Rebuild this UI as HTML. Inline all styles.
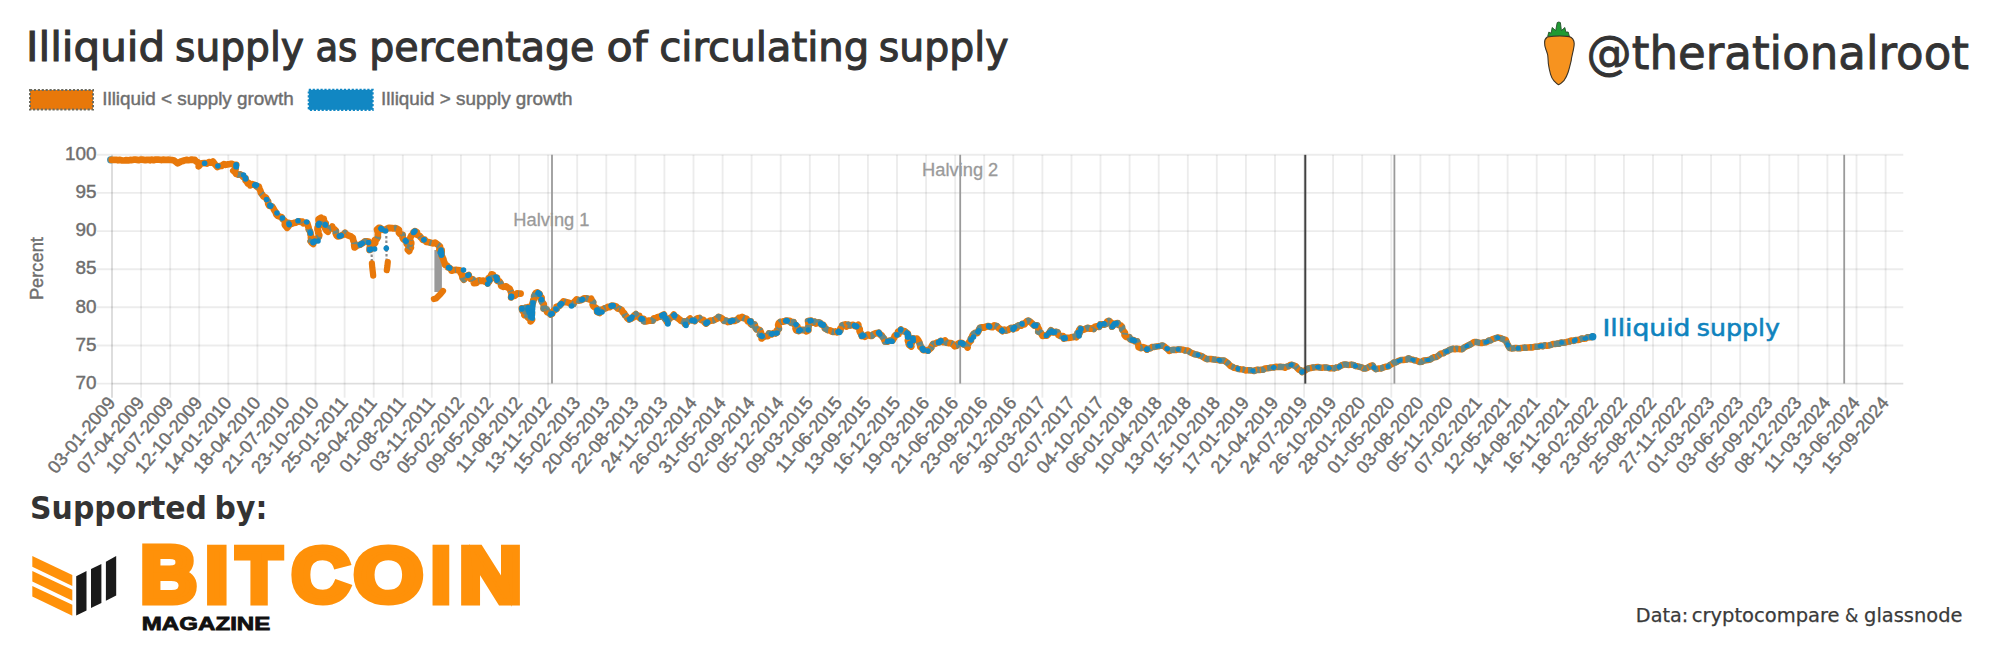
<!DOCTYPE html>
<html lang="en"><head><meta charset="utf-8"><title>Illiquid supply as percentage of circulating supply</title>
<style>html,body{margin:0;padding:0;background:#fff}body{width:1999px;height:658px;overflow:hidden}svg{display:block}text{font-family:"Liberation Sans",sans-serif}.u{font-family:"DejaVu Sans","Liberation Sans",sans-serif}.uc{font-family:"DejaVu Sans Condensed","DejaVu Sans","Liberation Sans",sans-serif}.tk{font-size:18.9px;fill:#6e6e6e;stroke:#6e6e6e;stroke-width:0.42px}</style></head><body>
<svg width="1999" height="658" viewBox="0 0 1999 658">
<rect width="1999" height="658" fill="#fff"/>
<g stroke="#000" stroke-opacity="0.075" stroke-width="1.9" fill="none">
<line x1="97" y1="154.8" x2="1903.3" y2="154.8"/>
<line x1="97" y1="192.9" x2="1903.3" y2="192.9"/>
<line x1="97" y1="231.1" x2="1903.3" y2="231.1"/>
<line x1="97" y1="269.2" x2="1903.3" y2="269.2"/>
<line x1="97" y1="307.3" x2="1903.3" y2="307.3"/>
<line x1="97" y1="345.5" x2="1903.3" y2="345.5"/>
<line x1="97" y1="383.6" x2="1903.3" y2="383.6"/>
<line x1="112.0" y1="154.8" x2="112.0" y2="397.7"/>
<line x1="141.1" y1="154.8" x2="141.1" y2="397.7"/>
<line x1="170.2" y1="154.8" x2="170.2" y2="397.7"/>
<line x1="199.2" y1="154.8" x2="199.2" y2="397.7"/>
<line x1="228.3" y1="154.8" x2="228.3" y2="397.7"/>
<line x1="257.4" y1="154.8" x2="257.4" y2="397.7"/>
<line x1="286.4" y1="154.8" x2="286.4" y2="397.7"/>
<line x1="315.5" y1="154.8" x2="315.5" y2="397.7"/>
<line x1="344.6" y1="154.8" x2="344.6" y2="397.7"/>
<line x1="373.7" y1="154.8" x2="373.7" y2="397.7"/>
<line x1="402.8" y1="154.8" x2="402.8" y2="397.7"/>
<line x1="431.8" y1="154.8" x2="431.8" y2="397.7"/>
<line x1="460.9" y1="154.8" x2="460.9" y2="397.7"/>
<line x1="490.0" y1="154.8" x2="490.0" y2="397.7"/>
<line x1="519.0" y1="154.8" x2="519.0" y2="397.7"/>
<line x1="548.1" y1="154.8" x2="548.1" y2="397.7"/>
<line x1="577.2" y1="154.8" x2="577.2" y2="397.7"/>
<line x1="606.3" y1="154.8" x2="606.3" y2="397.7"/>
<line x1="635.4" y1="154.8" x2="635.4" y2="397.7"/>
<line x1="664.4" y1="154.8" x2="664.4" y2="397.7"/>
<line x1="693.5" y1="154.8" x2="693.5" y2="397.7"/>
<line x1="722.6" y1="154.8" x2="722.6" y2="397.7"/>
<line x1="751.6" y1="154.8" x2="751.6" y2="397.7"/>
<line x1="780.7" y1="154.8" x2="780.7" y2="397.7"/>
<line x1="809.8" y1="154.8" x2="809.8" y2="397.7"/>
<line x1="838.9" y1="154.8" x2="838.9" y2="397.7"/>
<line x1="867.9" y1="154.8" x2="867.9" y2="397.7"/>
<line x1="897.0" y1="154.8" x2="897.0" y2="397.7"/>
<line x1="926.1" y1="154.8" x2="926.1" y2="397.7"/>
<line x1="955.2" y1="154.8" x2="955.2" y2="397.7"/>
<line x1="984.2" y1="154.8" x2="984.2" y2="397.7"/>
<line x1="1013.3" y1="154.8" x2="1013.3" y2="397.7"/>
<line x1="1042.4" y1="154.8" x2="1042.4" y2="397.7"/>
<line x1="1071.5" y1="154.8" x2="1071.5" y2="397.7"/>
<line x1="1100.5" y1="154.8" x2="1100.5" y2="397.7"/>
<line x1="1129.6" y1="154.8" x2="1129.6" y2="397.7"/>
<line x1="1158.7" y1="154.8" x2="1158.7" y2="397.7"/>
<line x1="1187.8" y1="154.8" x2="1187.8" y2="397.7"/>
<line x1="1216.8" y1="154.8" x2="1216.8" y2="397.7"/>
<line x1="1245.9" y1="154.8" x2="1245.9" y2="397.7"/>
<line x1="1275.0" y1="154.8" x2="1275.0" y2="397.7"/>
<line x1="1304.1" y1="154.8" x2="1304.1" y2="397.7"/>
<line x1="1333.1" y1="154.8" x2="1333.1" y2="397.7"/>
<line x1="1362.2" y1="154.8" x2="1362.2" y2="397.7"/>
<line x1="1391.3" y1="154.8" x2="1391.3" y2="397.7"/>
<line x1="1420.4" y1="154.8" x2="1420.4" y2="397.7"/>
<line x1="1449.5" y1="154.8" x2="1449.5" y2="397.7"/>
<line x1="1478.5" y1="154.8" x2="1478.5" y2="397.7"/>
<line x1="1507.6" y1="154.8" x2="1507.6" y2="397.7"/>
<line x1="1536.7" y1="154.8" x2="1536.7" y2="397.7"/>
<line x1="1565.8" y1="154.8" x2="1565.8" y2="397.7"/>
<line x1="1594.8" y1="154.8" x2="1594.8" y2="397.7"/>
<line x1="1623.9" y1="154.8" x2="1623.9" y2="397.7"/>
<line x1="1653.0" y1="154.8" x2="1653.0" y2="397.7"/>
<line x1="1682.0" y1="154.8" x2="1682.0" y2="397.7"/>
<line x1="1711.1" y1="154.8" x2="1711.1" y2="397.7"/>
<line x1="1740.2" y1="154.8" x2="1740.2" y2="397.7"/>
<line x1="1769.3" y1="154.8" x2="1769.3" y2="397.7"/>
<line x1="1798.3" y1="154.8" x2="1798.3" y2="397.7"/>
<line x1="1827.4" y1="154.8" x2="1827.4" y2="397.7"/>
<line x1="1856.5" y1="154.8" x2="1856.5" y2="397.7"/>
<line x1="1885.6" y1="154.8" x2="1885.6" y2="397.7"/>
</g>
<line x1="112.0" y1="383.6" x2="1903.3" y2="383.6" stroke="#000" stroke-opacity="0.06" stroke-width="1.9"/>
<line x1="112.0" y1="154.8" x2="112.0" y2="397.7" stroke="#000" stroke-opacity="0.07" stroke-width="1.9"/>
<g class="tk" text-anchor="end">
<text x="96.6" y="160.0">100</text>
<text x="96.6" y="198.1">95</text>
<text x="96.6" y="236.3">90</text>
<text x="96.6" y="274.4">85</text>
<text x="96.6" y="312.5">80</text>
<text x="96.6" y="350.7">75</text>
<text x="96.6" y="388.8">70</text>
</g>
<text class="tk" style="font-size:18.3px" transform="translate(43.2,268.6) rotate(-90)" text-anchor="middle">Percent</text>
<g class="tk" text-anchor="end" style="font-size:18.3px">
<text transform="translate(116.2,403.2) rotate(-50)">03-01-2009</text>
<text transform="translate(145.3,403.2) rotate(-50)">07-04-2009</text>
<text transform="translate(174.3,403.2) rotate(-50)">10-07-2009</text>
<text transform="translate(203.4,403.2) rotate(-50)">12-10-2009</text>
<text transform="translate(232.5,403.2) rotate(-50)">14-01-2010</text>
<text transform="translate(261.6,403.2) rotate(-50)">18-04-2010</text>
<text transform="translate(290.6,403.2) rotate(-50)">21-07-2010</text>
<text transform="translate(319.7,403.2) rotate(-50)">23-10-2010</text>
<text transform="translate(348.8,403.2) rotate(-50)">25-01-2011</text>
<text transform="translate(377.9,403.2) rotate(-50)">29-04-2011</text>
<text transform="translate(406.9,403.2) rotate(-50)">01-08-2011</text>
<text transform="translate(436.0,403.2) rotate(-50)">03-11-2011</text>
<text transform="translate(465.1,403.2) rotate(-50)">05-02-2012</text>
<text transform="translate(494.2,403.2) rotate(-50)">09-05-2012</text>
<text transform="translate(523.2,403.2) rotate(-50)">11-08-2012</text>
<text transform="translate(552.3,403.2) rotate(-50)">13-11-2012</text>
<text transform="translate(581.4,403.2) rotate(-50)">15-02-2013</text>
<text transform="translate(610.5,403.2) rotate(-50)">20-05-2013</text>
<text transform="translate(639.6,403.2) rotate(-50)">22-08-2013</text>
<text transform="translate(668.6,403.2) rotate(-50)">24-11-2013</text>
<text transform="translate(697.7,403.2) rotate(-50)">26-02-2014</text>
<text transform="translate(726.8,403.2) rotate(-50)">31-05-2014</text>
<text transform="translate(755.9,403.2) rotate(-50)">02-09-2014</text>
<text transform="translate(784.9,403.2) rotate(-50)">05-12-2014</text>
<text transform="translate(814.0,403.2) rotate(-50)">09-03-2015</text>
<text transform="translate(843.1,403.2) rotate(-50)">11-06-2015</text>
<text transform="translate(872.1,403.2) rotate(-50)">13-09-2015</text>
<text transform="translate(901.2,403.2) rotate(-50)">16-12-2015</text>
<text transform="translate(930.3,403.2) rotate(-50)">19-03-2016</text>
<text transform="translate(959.4,403.2) rotate(-50)">21-06-2016</text>
<text transform="translate(988.5,403.2) rotate(-50)">23-09-2016</text>
<text transform="translate(1017.5,403.2) rotate(-50)">26-12-2016</text>
<text transform="translate(1046.6,403.2) rotate(-50)">30-03-2017</text>
<text transform="translate(1075.7,403.2) rotate(-50)">02-07-2017</text>
<text transform="translate(1104.8,403.2) rotate(-50)">04-10-2017</text>
<text transform="translate(1133.8,403.2) rotate(-50)">06-01-2018</text>
<text transform="translate(1162.9,403.2) rotate(-50)">10-04-2018</text>
<text transform="translate(1192.0,403.2) rotate(-50)">13-07-2018</text>
<text transform="translate(1221.0,403.2) rotate(-50)">15-10-2018</text>
<text transform="translate(1250.1,403.2) rotate(-50)">17-01-2019</text>
<text transform="translate(1279.2,403.2) rotate(-50)">21-04-2019</text>
<text transform="translate(1308.3,403.2) rotate(-50)">24-07-2019</text>
<text transform="translate(1337.3,403.2) rotate(-50)">26-10-2019</text>
<text transform="translate(1366.4,403.2) rotate(-50)">28-01-2020</text>
<text transform="translate(1395.5,403.2) rotate(-50)">01-05-2020</text>
<text transform="translate(1424.6,403.2) rotate(-50)">03-08-2020</text>
<text transform="translate(1453.7,403.2) rotate(-50)">05-11-2020</text>
<text transform="translate(1482.7,403.2) rotate(-50)">07-02-2021</text>
<text transform="translate(1511.8,403.2) rotate(-50)">12-05-2021</text>
<text transform="translate(1540.9,403.2) rotate(-50)">14-08-2021</text>
<text transform="translate(1570.0,403.2) rotate(-50)">16-11-2021</text>
<text transform="translate(1599.0,403.2) rotate(-50)">18-02-2022</text>
<text transform="translate(1628.1,403.2) rotate(-50)">23-05-2022</text>
<text transform="translate(1657.2,403.2) rotate(-50)">25-08-2022</text>
<text transform="translate(1686.2,403.2) rotate(-50)">27-11-2022</text>
<text transform="translate(1715.3,403.2) rotate(-50)">01-03-2023</text>
<text transform="translate(1744.4,403.2) rotate(-50)">03-06-2023</text>
<text transform="translate(1773.5,403.2) rotate(-50)">05-09-2023</text>
<text transform="translate(1802.5,403.2) rotate(-50)">08-12-2023</text>
<text transform="translate(1831.6,403.2) rotate(-50)">11-03-2024</text>
<text transform="translate(1860.7,403.2) rotate(-50)">13-06-2024</text>
<text transform="translate(1889.8,403.2) rotate(-50)">15-09-2024</text>
</g>
<g stroke="#9a9a9a" stroke-width="1.8">
<line x1="552" y1="154.8" x2="552" y2="383.6"/>
<line x1="960.2" y1="154.8" x2="960.2" y2="383.6"/>
<line x1="1394.4" y1="154.8" x2="1394.4" y2="383.6"/>
<line x1="1844.2" y1="154.8" x2="1844.2" y2="383.6"/>
</g>
<g font-size="18.3" fill="#9a9a9a" stroke="#9a9a9a" stroke-width="0.3" text-anchor="middle">
<text x="551.4" y="225.5">Halving 1</text>
<text x="960.2" y="176">Halving 2</text>
</g>
<rect x="434.4" y="250" width="7.5" height="42" fill="#999"/>
<g fill="none" stroke="#8a8a8a" stroke-width="2.2" stroke-dasharray="2.5 2">
<polyline points="371.5,250.0 371.9,263.0"/>
<polyline points="386.3,236.0 386.6,262.0"/>
</g>
<circle cx="110.6" cy="159.8" r="3.6" fill="#4a93ad"/>
<g fill="none" stroke="#e8780a" stroke-linejoin="round" stroke-linecap="round">
<polyline stroke-width="6.7" points="111.8,159.8 113.9,159.8 116.0,159.8 118.0,160.3 120.1,159.9 122.2,160.5 124.3,160.5 126.2,160.1 128.2,160.4 130.1,159.9 132.0,160.1 133.7,159.7 135.4,159.7 137.1,159.9 138.8,160.2 140.5,159.5 142.1,159.6 143.7,159.9 145.3,160.2 146.9,159.9 148.6,159.8 150.2,160.3 151.8,159.5 153.4,160.2 155.0,159.7 156.6,159.6 158.2,159.5 159.8,159.7 161.4,160.1 163.0,159.6 164.6,159.9 166.2,159.9 167.8,159.7 169.4,159.8 171.8,160.0 174.1,160.6 176.0,161.9 177.7,163.3 179.6,162.3 181.4,161.3 183.3,160.9 185.1,160.2 186.7,159.9 188.4,160.2 190.0,160.0 191.6,159.6 193.2,159.9 194.8,159.8 195.9,161.2 197.4,162.2 197.5,162.0 199.0,163.6 198.7,166.3 201.5,163.3 204.5,163.0 206.9,163.6 208.9,162.0 211.0,162.7 212.9,161.5 215.3,164.8 217.5,167.1 219.5,166.1 221.4,166.0 223.9,164.1 225.7,164.8 227.4,164.4 229.0,164.2 231.3,163.8 233.7,164.6 236.2,164.9 235.9,165.4 235.1,166.9 235.6,169.4 233.3,170.8 235.1,172.3 236.3,174.0 238.1,174.7 240.4,174.4 242.0,175.5 243.3,177.0 245.5,178.0 245.6,180.5 247.0,181.9 247.9,183.5 249.0,183.2 250.2,185.3 252.2,184.1 253.7,184.6 255.2,185.2 256.7,186.6 258.9,186.7 259.4,188.9 260.4,190.8 260.9,192.9 262.3,194.6 263.5,196.5 265.8,197.6 266.8,199.6 268.1,201.4 268.2,203.9 269.3,205.8 272.1,206.5 273.3,208.4 274.4,210.3 275.6,212.1 276.3,214.3 277.8,215.8 279.9,216.6 281.7,217.2 282.5,219.0 284.7,220.8 285.0,222.8 284.8,224.8 286.0,226.3 287.1,227.8 288.2,226.5 289.2,225.2 288.8,222.9 291.8,223.9 293.5,223.0 295.6,222.6 297.6,221.7 299.0,221.3 300.5,221.8 302.3,221.6 303.5,223.4 305.6,222.8 307.3,223.4 308.0,225.9 308.6,227.6 308.7,229.4 309.8,231.0 310.4,232.7 310.5,234.5 311.1,236.0 310.9,237.8 312.1,239.2 310.6,241.3 311.7,242.7 313.2,244.0 313.3,242.4 314.7,241.2 316.2,239.9 317.3,238.1 318.9,236.9 319.3,235.0 318.2,233.0 318.4,231.3 317.5,229.5 317.6,227.7 318.4,226.0 318.4,224.2 320.0,222.6 318.6,220.8 318.5,219.1 321.0,217.8 321.6,218.5 323.8,218.9 323.9,221.6 325.7,223.2 325.2,225.5 324.7,227.5 325.5,229.0 326.4,230.4 327.9,231.7 328.4,230.2 329.2,228.5 331.5,228.2 332.3,226.6 332.7,228.5 334.6,229.5 335.9,230.9 335.7,233.3 336.4,235.1 337.7,236.5 340.4,235.9 342.1,235.2 343.7,234.4 345.0,232.7 346.9,234.7 348.8,235.7 351.1,236.5 352.8,237.9 353.4,240.7 354.3,242.8 354.2,245.2 354.5,247.4 357.3,245.4 359.9,244.8 361.7,243.7 363.6,242.4 364.9,241.4 366.8,241.3 368.6,241.5 369.7,243.9 370.2,245.8 369.7,247.9 369.6,250.0 372.2,248.3 372.5,246.0 373.9,244.4 375.3,242.8 374.8,240.1 377.0,239.0 377.9,237.0 377.8,235.0 378.0,233.1 377.5,231.3 377.0,229.4 378.7,227.9 380.1,227.8 381.9,229.3 384.0,230.0 386.3,229.0 388.9,227.8 392.0,228.1 393.2,228.4 395.5,228.1 397.3,228.9 399.0,229.9 398.9,232.7 400.3,234.2 402.7,234.8 402.5,237.4 403.3,239.2 405.1,240.3 406.4,241.8 406.7,243.7 408.3,245.2 409.3,246.9 407.8,249.6 409.2,251.1 409.8,249.3 410.9,247.6 409.9,245.7 411.2,244.1 411.2,242.4 409.9,240.6 410.2,239.0 410.4,237.4 411.4,235.4 413.2,234.1 413.5,232.3 414.8,231.1 417.0,232.2 417.0,234.9 419.4,235.6 420.6,237.3 421.8,238.4 422.7,239.9 424.7,239.7 426.2,241.9 428.7,242.2 430.7,242.8 432.8,243.4 435.1,242.6 436.9,244.1 438.6,245.3 440.0,246.5 439.4,249.2 441.7,250.0 441.6,252.7 441.5,255.1 442.4,257.2 443.4,259.2 443.8,261.1 444.6,262.9 444.9,264.8 447.2,265.7 447.6,267.3 449.4,267.8 450.7,268.8 451.5,270.7 454.0,270.0 456.0,269.8 457.9,270.2 459.8,270.4 460.4,270.9 460.6,272.6 461.5,274.0 462.2,275.9 462.6,278.0 463.9,279.7 464.9,278.1 465.8,276.5 468.7,274.9 468.7,275.9 469.5,277.5 470.5,279.0 472.9,279.3 473.5,281.1 473.9,283.1 476.5,282.8 477.8,280.8 479.7,280.4 481.6,280.9 483.5,280.6 484.8,281.6 486.4,281.7 487.6,283.5 488.9,281.8 489.7,280.4 488.6,278.2 490.7,276.5 491.5,274.3 493.0,274.5 493.3,276.9 494.5,278.1 497.0,277.8 497.1,280.7 499.5,281.5 500.7,283.4 501.2,285.8 503.6,286.8 506.2,286.3 507.8,287.6 509.6,288.6 510.5,290.7 511.3,292.8 511.5,295.1 511.1,297.5 512.5,295.6 514.6,295.9 515.9,294.9 517.1,293.4 518.9,293.5 520.6,293.6"/>
<polyline stroke-width="6.8" points="521.9,308.4 522.2,310.2 523.4,311.8 524.1,310.9 524.4,309.3 525.4,307.9 525.5,309.3 525.3,311.2 525.9,313.1 524.4,315.0 525.0,313.2 525.2,311.6 526.3,310.1 527.9,308.9 528.2,307.2 528.0,308.8 528.3,310.7 526.6,312.5 527.3,314.3 527.1,316.2 528.4,318.0 526.9,316.1 528.6,314.7 528.3,313.0 527.9,311.1 530.1,309.9 529.8,308.1 529.0,309.7 530.7,311.3 529.2,313.1 531.1,314.6 529.5,316.5 530.6,318.0 531.0,319.7 530.7,321.4 532.0,319.5 530.8,317.4 530.7,315.4 531.9,313.5 531.5,311.5 531.4,309.5 531.8,307.6 531.8,305.6 532.5,303.7 533.1,301.8 533.4,299.9 534.7,298.3 534.1,296.4 534.9,294.7 535.8,293.1 537.4,292.4 539.5,294.0 540.1,296.1 541.6,297.8 541.3,300.4 542.3,302.3 543.7,304.1 543.9,306.3 543.6,308.7 546.6,309.3 547.0,312.0 549.2,312.9 550.6,314.5 552.2,313.7 552.5,311.8 553.7,310.7 555.0,309.7 556.6,308.9 556.5,306.8 559.0,306.2 560.5,304.6 562.1,303.1 563.5,301.4 565.8,302.2 568.1,302.5 570.0,303.4 572.1,304.1 573.5,304.1 574.1,302.1 575.4,300.8 576.7,299.5 579.2,300.5 580.9,300.2 582.5,299.5 584.0,298.3 585.9,298.4 587.6,298.7 589.3,299.3 591.1,298.7 592.0,300.9 593.2,302.2 592.7,304.6 593.5,306.2 595.5,307.7 597.3,309.2 597.1,311.9 599.6,313.0 600.4,311.7 601.3,309.9 603.2,309.4 604.7,308.4 606.3,308.0 607.7,307.0 609.5,307.2 611.6,305.7 614.1,305.8 616.4,306.7 617.7,308.4 619.9,309.0 621.7,310.2 622.8,312.2 624.2,313.4 625.1,315.3 626.5,316.6 627.5,318.3 629.1,319.5 631.3,318.4 633.2,317.5 634.3,315.4 635.9,314.2 636.8,316.4 639.3,316.0 639.9,318.1 641.4,319.0 643.5,318.9 643.9,321.3 646.4,321.4 648.4,320.7 650.5,320.7 652.6,320.7 654.0,318.3 656.2,318.0 658.0,317.0 660.2,316.6 662.0,315.5 663.9,314.5 664.3,316.0 664.7,318.4 666.2,320.2 667.2,322.3 668.3,320.5 669.1,319.0 670.4,317.9 672.5,316.6 673.8,314.6 675.4,316.9 677.1,317.5 678.4,318.6 679.8,319.7 681.1,320.8 682.7,321.4 684.7,321.5 685.0,323.9 687.1,322.3 688.0,320.5 690.1,318.7 691.2,320.2 693.4,320.5 694.7,321.0 696.1,319.3 697.6,318.3 699.5,318.0 701.1,320.0 703.4,320.0 704.5,322.0 706.0,323.5 708.0,321.9 709.4,321.1 711.0,320.6 712.7,320.4 714.3,320.0 715.7,319.1 717.3,318.6 718.5,316.9 721.0,317.9 722.7,319.0 724.1,320.8 726.3,320.7 727.9,322.0 730.2,321.6 730.9,321.0 732.7,320.7 734.6,320.8 736.2,320.1 737.7,319.4 738.9,318.0 740.6,317.8 742.1,317.0 744.2,318.2 746.6,318.8 747.8,321.4 750.6,321.3 750.7,323.8 752.0,324.8 754.6,324.5 755.1,326.3 755.7,328.0 756.7,329.4 758.7,329.6 760.1,330.4 760.9,332.5 759.9,334.8 762.0,336.3 761.7,338.4 763.4,336.6 765.6,336.2 768.0,336.1 769.0,333.5 771.5,334.4 773.2,333.2 775.3,333.5 777.0,332.6 776.9,330.3 778.9,329.0 778.6,327.0 778.2,325.0 778.8,323.2 780.4,321.9 782.7,321.6 785.0,321.1 786.6,320.6 788.2,321.0 789.9,320.8 791.1,322.7 793.6,322.1 794.3,324.3 795.7,325.4 797.2,326.4 795.6,328.4 796.3,330.2 798.7,331.0 800.6,329.8 802.5,330.0 804.5,330.0 806.5,331.3 808.4,330.3 808.3,327.8 808.6,325.5 808.5,323.3 808.1,321.1 811.1,320.7 812.6,322.6 814.6,321.7 816.1,323.5 818.3,322.4 820.1,322.8 821.3,324.4 823.1,324.9 824.2,326.3 824.8,328.3 826.3,329.2 827.8,330.1 830.0,330.3 831.6,331.4 833.4,331.9 835.5,331.5 837.3,332.3 839.4,331.2 840.3,330.6 840.4,328.6 841.7,327.2 842.2,325.4 843.5,324.9 845.2,324.4 846.7,326.4 848.4,324.7 850.0,325.5 851.6,325.2 853.3,325.0 855.0,325.9 856.7,326.4 858.3,324.8 858.4,327.3 859.7,329.0 859.6,331.0 860.4,332.7 861.3,334.3 861.8,336.1 862.8,335.4 864.8,336.7 866.4,335.5 868.1,334.7 870.1,335.9 871.9,335.8 873.5,334.3 875.2,333.4 876.9,333.2 878.7,332.7 880.2,334.6 881.7,335.5 882.6,337.0 883.8,338.3 884.4,340.0 885.1,341.7 887.4,341.6 889.0,340.8 890.7,340.5 892.5,340.5 893.3,338.9 894.3,337.5 894.8,335.8 896.2,334.7 898.4,334.2 898.0,331.8 899.7,330.9 900.9,329.7 902.0,331.2 904.5,331.1 906.2,332.5 907.9,333.8 908.2,336.2 908.6,338.3 907.9,340.6 908.6,342.6 909.0,344.7 911.3,346.4 910.0,344.2 912.0,342.5 913.1,340.6 912.9,338.3 914.7,339.1 916.9,338.6 918.1,340.1 919.1,341.9 919.6,343.3 920.3,345.3 920.4,347.0 922.3,348.3 923.0,350.0 925.1,350.0 928.0,350.7 929.5,349.2 931.2,347.7 932.0,345.8 933.1,344.0 935.0,343.9 936.9,342.7 939.0,342.4 940.8,340.9 943.2,342.1 945.0,340.5 946.3,342.7 948.2,343.0 950.2,343.1 951.9,343.6 953.4,344.6 954.6,346.2 956.8,345.6 958.2,343.6 960.0,342.9 962.2,343.2 963.5,344.3 965.1,345.0 966.7,345.7 967.6,347.4 967.2,345.1 968.4,343.6 969.3,342.0 970.9,340.7 970.8,338.8 971.9,337.3 972.4,335.8 973.5,334.2 974.9,333.0 977.3,333.0 978.3,331.3 979.1,329.5 980.0,327.8 982.1,327.4 984.2,327.5 986.1,326.7 988.1,326.1 990.3,326.8 992.4,327.1 994.3,325.4 997.0,326.3 998.7,328.1 1000.6,329.4 1002.4,331.1 1004.2,329.7 1006.2,330.5 1007.9,330.0 1009.5,329.0 1011.1,328.0 1013.1,329.2 1014.5,327.4 1016.5,328.1 1017.6,326.1 1019.1,325.3 1021.2,325.6 1022.3,323.9 1024.5,324.4 1025.5,322.7 1026.8,321.4 1028.3,320.7 1030.7,322.2 1032.5,323.9 1034.3,325.7 1037.2,325.3 1037.8,327.6 1039.0,329.2 1038.3,331.6 1040.7,332.6 1041.7,334.2 1042.5,335.9 1043.9,335.5 1046.7,335.7 1049.1,333.1 1050.9,330.4 1051.8,331.8 1053.6,332.4 1055.8,331.9 1057.6,332.3 1058.4,335.0 1060.4,336.0 1063.0,336.1 1063.9,338.6 1066.2,337.9 1068.2,337.8 1070.3,337.6 1072.3,337.2 1074.3,336.7 1076.4,337.2 1076.8,336.1 1078.7,335.1 1077.7,332.8 1080.1,332.2 1079.2,330.0 1080.2,328.7 1082.3,329.5 1084.2,329.5 1086.0,328.7 1087.8,327.8 1089.7,328.7 1091.5,328.5 1093.7,329.0 1094.9,326.8 1096.9,326.4 1099.1,326.9 1100.2,324.4 1102.3,324.5 1104.5,324.6 1106.2,323.7 1107.3,321.6 1108.9,320.9 1111.7,323.4 1112.0,326.6 1114.7,323.8 1117.8,323.1 1118.2,324.7 1120.6,325.5 1122.0,326.9 1122.2,329.5 1123.5,331.0 1124.9,332.8 1124.6,335.1 1126.1,336.9 1127.5,337.1 1129.3,337.2 1130.3,339.3 1131.8,340.2 1133.6,340.1 1135.0,341.3 1137.2,341.4 1137.9,343.2 1138.4,345.0 1138.6,347.1 1140.9,348.0 1142.9,347.2 1145.1,348.0 1146.9,349.4"/>
<polyline stroke-width="6.5" points="1146.8,349.5 1148.5,348.7 1150.5,348.4 1151.9,347.1 1153.8,347.0 1155.9,346.6 1158.1,346.3 1160.3,345.9 1162.6,345.4 1164.4,346.5 1166.1,347.9 1167.8,349.3 1169.2,351.0 1171.6,350.0 1173.9,349.8 1176.1,350.1 1178.3,349.2 1180.7,349.4 1183.1,349.7 1185.4,350.6 1187.9,350.6 1190.1,352.2 1192.4,353.2 1194.8,354.3 1197.5,354.7 1200.0,355.6 1202.4,356.6 1204.6,358.0 1206.9,359.2 1208.8,359.1 1210.7,359.0 1212.5,359.3 1214.3,359.6 1216.2,359.8 1218.0,359.9 1219.8,360.4 1221.8,360.6 1223.7,360.4 1225.4,361.4 1228.1,363.4 1230.3,365.9 1232.4,366.7 1234.3,367.9 1236.6,368.2 1238.6,369.1 1240.8,369.3 1243.1,369.4 1245.3,370.4 1247.6,370.3 1249.9,370.3 1252.2,370.6 1254.1,371.0 1255.8,370.2 1257.6,369.7 1259.5,370.1 1261.3,369.7 1263.2,369.8 1265.0,368.4 1267.2,368.2 1269.3,368.0 1271.4,367.5 1273.5,367.6 1275.8,366.7 1278.0,367.0 1280.3,366.8 1282.7,366.9 1285.0,367.7 1286.7,366.6 1288.6,366.2 1290.1,365.0 1291.9,364.8 1293.9,365.5 1296.0,366.3 1297.3,368.1 1298.7,369.6 1300.8,370.4 1302.0,372.1 1305.3,370.3 1308.1,368.4 1310.6,368.1 1312.9,367.5 1315.4,367.3 1317.8,367.0 1319.8,367.5 1321.9,367.7 1324.0,367.4 1326.0,367.4 1328.1,367.9 1330.1,368.4 1332.2,368.1 1334.2,368.4 1335.9,367.6 1338.0,367.5 1339.7,366.5 1341.4,365.4 1343.2,364.8 1345.2,364.4 1347.2,364.7 1349.3,364.9 1351.4,364.6 1353.4,364.9 1355.4,366.0 1357.5,366.3 1359.6,366.8 1361.6,367.3 1363.5,368.5 1365.7,368.4 1367.4,367.9 1368.9,366.9 1370.7,366.0 1372.7,365.5 1373.8,367.6 1376.0,369.2 1378.4,368.5 1381.0,368.4 1383.5,367.4 1386.1,366.7 1388.3,366.4 1390.0,364.9 1392.0,364.1 1393.7,362.6 1395.6,362.5 1397.3,361.6 1399.1,360.7 1400.9,360.0 1402.9,360.1 1404.9,359.7 1406.9,359.5 1408.6,358.2 1410.5,359.3 1412.4,359.6 1414.2,360.3 1416.1,360.5 1417.9,361.2 1419.7,362.0 1421.8,361.8 1423.7,360.5 1425.8,360.3 1427.9,360.0 1430.1,359.6 1431.9,358.3 1433.7,357.3 1436.0,357.1 1437.9,356.1 1439.6,354.7 1441.3,353.4 1443.6,353.2 1445.3,351.8 1447.4,351.3 1449.2,350.1 1451.2,349.3 1452.9,348.7 1454.8,349.3 1456.6,348.7 1458.4,348.9 1460.3,349.3 1462.1,349.3 1464.0,347.6 1466.0,346.5 1468.2,345.5 1470.3,344.5 1472.3,343.2 1474.2,341.9 1476.7,342.1 1479.0,342.7 1481.5,343.1 1484.0,342.4 1485.7,342.3 1487.5,341.7 1488.9,340.4 1490.9,340.4 1492.4,339.1 1494.2,338.8 1495.9,338.1 1497.6,337.5 1499.7,337.9 1501.7,338.6 1503.7,339.5 1505.8,340.0 1506.5,342.2 1507.5,344.2 1508.5,346.2 1509.7,348.1 1511.4,348.4 1513.6,348.2 1515.7,347.9 1517.9,348.3 1520.0,348.3 1522.1,347.9 1524.2,347.6 1526.3,347.8 1528.4,347.4 1530.5,347.3 1532.5,347.4 1534.5,346.7 1536.6,346.8 1538.7,346.6 1540.6,345.8 1542.8,346.2 1544.8,345.3 1546.9,345.7 1549.0,345.5 1551.0,344.9 1553.0,344.0 1555.1,344.1 1557.1,343.5 1559.3,343.7 1561.1,342.4 1563.3,342.8 1565.4,342.5 1567.4,341.8 1569.5,341.5 1571.4,340.5 1573.7,340.9 1575.7,340.0 1577.9,340.0 1580.0,339.5 1581.9,338.4 1583.8,338.7 1585.6,338.5 1587.3,337.3 1589.1,337.2 1591.0,337.3 1592.6,336.4"/>
<polyline stroke-width="6.2" points="371.9,263.4 372.3,268.0 372.8,272.0 373.2,275.7"/>
<polyline stroke-width="6.2" points="387.8,262.0 387.4,266.0 386.8,270.2"/>
<polyline stroke-width="6.2" points="433.9,299.0 436.0,298.5 438.5,296.0 440.5,294.0 443.0,291.0"/>
</g>
<g fill="none" stroke="#5f898c" stroke-linejoin="round" stroke-linecap="butt">
<polyline stroke-opacity="0.9" stroke-width="5.8" stroke-dasharray="2.8 8.0 2.6 6.6 1.9 15.1 1.3 7.9 1.9 8.5 0.9 7.0 1.2 15.3 2.3 14.8 1.2 13.6 1.1 10.8 2.2 9.0 2.7 11.1 2.1 14.7 1.0 15.9 2.2 9.3 2.6 7.9 3.0 11.4 1.6 13.4 1.8 6.9 2.4 5.5 2.6 7.8 2.2 15.8 2.1 12.3 1.5 5.0 0.9 6.6 2.2 9.8 1.9 14.9 1.1 7.5 2.2 5.2 0.8 8.9 1.0 8.9 1.3 11.4 2.1 7.2 2.2 10.2 1.1 15.3 1.3 6.6 1.0 12.0 2.7 13.6 1.7 7.9 0.8 12.1 2.0 8.9 2.2 9.9 2.9 13.1 1.3 14.9 0.9 10.8 1.7 7.6 0.9 13.6 0.8 11.1 2.9 6.6 1.2 11.7" points="236.2,164.9 236.3,174.0 238.1,174.7 240.4,174.4 242.0,175.5 243.3,177.0 245.5,178.0 245.6,180.5 247.0,181.9 247.9,183.5 249.0,183.2 250.2,185.3 252.2,184.1 253.7,184.6 255.2,185.2 256.7,186.6 258.9,186.7 259.4,188.9 260.4,190.8 260.9,192.9 262.3,194.6 263.5,196.5 265.8,197.6 266.8,199.6 268.1,201.4 268.2,203.9 269.3,205.8 272.1,206.5 273.3,208.4 274.4,210.3 275.6,212.1 276.3,214.3 277.8,215.8 279.9,216.6 281.7,217.2 282.5,219.0 284.7,220.8 285.0,222.8 284.8,224.8 286.0,226.3 287.1,227.8 288.2,226.5 289.2,225.2 288.8,222.9 291.8,223.9 293.5,223.0 295.6,222.6 297.6,221.7 299.0,221.3 300.5,221.8 302.3,221.6 303.5,223.4 305.6,222.8 307.3,223.4 308.0,225.9 308.6,227.6 308.7,229.4 309.8,231.0 310.4,232.7 310.5,234.5 311.1,236.0 310.9,237.8 312.1,239.2 310.6,241.3 311.7,242.7 313.2,244.0 313.3,242.4 314.7,241.2 316.2,239.9 317.3,238.1 318.9,236.9 319.3,235.0 318.2,233.0 318.4,231.3 317.5,229.5 317.6,227.7 318.4,226.0 318.4,224.2 320.0,222.6 318.6,220.8 318.5,219.1 321.0,217.8 321.6,218.5 323.8,218.9 323.9,221.6 325.7,223.2 325.2,225.5 324.7,227.5 325.5,229.0 326.4,230.4 327.9,231.7 328.4,230.2 329.2,228.5 331.5,228.2 332.3,226.6 332.7,228.5 334.6,229.5 335.9,230.9 335.7,233.3 336.4,235.1 337.7,236.5 340.4,235.9 342.1,235.2 343.7,234.4 345.0,232.7 346.9,234.7 348.8,235.7 351.1,236.5 352.8,237.9 353.4,240.7 354.3,242.8 354.2,245.2 354.5,247.4 357.3,245.4 359.9,244.8 361.7,243.7 363.6,242.4 364.9,241.4 366.8,241.3 368.6,241.5 369.7,243.9 370.2,245.8 369.7,247.9 369.6,250.0 372.2,248.3 372.5,246.0 373.9,244.4 375.3,242.8 374.8,240.1 377.0,239.0 377.9,237.0 377.8,235.0 378.0,233.1 377.5,231.3 377.0,229.4 378.7,227.9 380.1,227.8 381.9,229.3 384.0,230.0 386.3,229.0 388.9,227.8 392.0,228.1 393.2,228.4 395.5,228.1 397.3,228.9 399.0,229.9 398.9,232.7 400.3,234.2 402.7,234.8 402.5,237.4 403.3,239.2 405.1,240.3 406.4,241.8 406.7,243.7 408.3,245.2 409.3,246.9 407.8,249.6 409.2,251.1 409.8,249.3 410.9,247.6 409.9,245.7 411.2,244.1 411.2,242.4 409.9,240.6 410.2,239.0 410.4,237.4 411.4,235.4 413.2,234.1 413.5,232.3 414.8,231.1 417.0,232.2 417.0,234.9 419.4,235.6 420.6,237.3 421.8,238.4 422.7,239.9 424.7,239.7 426.2,241.9 428.7,242.2 430.7,242.8 432.8,243.4 435.1,242.6 436.9,244.1 438.6,245.3 440.0,246.5 439.4,249.2 441.7,250.0 441.6,252.7 441.5,255.1 442.4,257.2 443.4,259.2 443.8,261.1 444.6,262.9 444.9,264.8 447.2,265.7 447.6,267.3 449.4,267.8 450.7,268.8 451.5,270.7 454.0,270.0 456.0,269.8 457.9,270.2 459.8,270.4 460.4,270.9 460.6,272.6 461.5,274.0 462.2,275.9 462.6,278.0 463.9,279.7 464.9,278.1 465.8,276.5 468.7,274.9 468.7,275.9 469.5,277.5 470.5,279.0 472.9,279.3 473.5,281.1 473.9,283.1 476.5,282.8 477.8,280.8 479.7,280.4 481.6,280.9 483.5,280.6 484.8,281.6 486.4,281.7 487.6,283.5 488.9,281.8 489.7,280.4 488.6,278.2 490.7,276.5 491.5,274.3 493.0,274.5 493.3,276.9 494.5,278.1 497.0,277.8 497.1,280.7 499.5,281.5 500.7,283.4 501.2,285.8 503.6,286.8 506.2,286.3 507.8,287.6 509.6,288.6 510.5,290.7 511.3,292.8 511.5,295.1 511.1,297.5 512.5,295.6 514.6,295.9 515.9,294.9 517.1,293.4 518.9,293.5 520.6,293.6"/>
<polyline stroke-opacity="0.95" stroke-width="6.2" stroke-dasharray="2.8 4.7 3.8 2.4 2.1 3.0 1.2 5.9 3.7 5.1 1.0 5.7 3.6 3.8 3.6 3.8 1.8 2.0 1.8 1.7 2.2 5.2 3.4 5.7 3.5 2.8 2.9 3.7 3.8 4.1 1.9 4.7 4.4 2.6 4.1 1.6 1.9 2.7 3.6 6.2 3.6 3.1 4.1 3.1 1.8 6.0 3.2 5.0 3.3 6.4 2.6 5.7 3.4 5.8 2.5 5.1 3.0 3.0 1.7 4.6 1.3 6.1 1.5 1.6 1.4 6.1 2.2 2.2 1.1 1.7 3.4 4.7 3.4 5.2 1.2 4.5 2.3 5.6 3.9 6.0 1.2 5.8 4.2 6.2 1.4 2.5 1.4 1.7 4.0 5.6 3.2 5.6 3.2 2.9 1.3 2.0 3.7 2.5 2.1 3.6 1.1 2.8 2.0 5.1 2.3 3.1 4.4 4.0 4.0 4.6 1.1 3.6 2.5 5.4 2.2 5.0 2.9 2.6 4.0 2.0 3.9 2.4 1.0 2.5 3.7 6.4 1.0 4.0 2.7 5.5 1.6 4.0 2.2 5.7 1.9 6.2 2.0 2.6 3.4 4.0 1.4 4.7 1.3 5.4 3.4 5.4 3.2 3.3 2.4 3.5 4.1 1.9 4.1 1.6 1.7 2.8 4.2 4.0 2.3 5.9 1.8 3.8 2.9 5.3 3.6 4.7 2.2 3.1 1.5 5.7 3.3 5.2 1.6 3.7 3.7 4.4 1.4 3.8 4.1 2.7 1.7 3.0 3.5 5.7 1.5 2.3 1.9 3.1 2.8 2.3 2.1 2.4 4.4 5.1 1.4 6.3 1.4 3.4 4.4 5.5 3.6 3.7 1.7 4.7 1.4 2.5 2.4 1.7 2.4 5.5 3.4 4.0 3.2 3.8 1.5 4.5 2.4 5.2 4.2 3.7 3.0 5.2 2.5 2.6 3.5 5.9 3.7 5.0 4.0 4.9 3.2 3.8 2.1 4.6 1.3 3.6 3.7 5.1 3.2 2.8" points="521.9,308.4 522.2,310.2 523.4,311.8 524.1,310.9 524.4,309.3 525.4,307.9 525.5,309.3 525.3,311.2 525.9,313.1 524.4,315.0 525.0,313.2 525.2,311.6 526.3,310.1 527.9,308.9 528.2,307.2 528.0,308.8 528.3,310.7 526.6,312.5 527.3,314.3 527.1,316.2 528.4,318.0 526.9,316.1 528.6,314.7 528.3,313.0 527.9,311.1 530.1,309.9 529.8,308.1 529.0,309.7 530.7,311.3 529.2,313.1 531.1,314.6 529.5,316.5 530.6,318.0 531.0,319.7 530.7,321.4 532.0,319.5 530.8,317.4 530.7,315.4 531.9,313.5 531.5,311.5 531.4,309.5 531.8,307.6 531.8,305.6 532.5,303.7 533.1,301.8 533.4,299.9 534.7,298.3 534.1,296.4 534.9,294.7 535.8,293.1 537.4,292.4 539.5,294.0 540.1,296.1 541.6,297.8 541.3,300.4 542.3,302.3 543.7,304.1 543.9,306.3 543.6,308.7 546.6,309.3 547.0,312.0 549.2,312.9 550.6,314.5 552.2,313.7 552.5,311.8 553.7,310.7 555.0,309.7 556.6,308.9 556.5,306.8 559.0,306.2 560.5,304.6 562.1,303.1 563.5,301.4 565.8,302.2 568.1,302.5 570.0,303.4 572.1,304.1 573.5,304.1 574.1,302.1 575.4,300.8 576.7,299.5 579.2,300.5 580.9,300.2 582.5,299.5 584.0,298.3 585.9,298.4 587.6,298.7 589.3,299.3 591.1,298.7 592.0,300.9 593.2,302.2 592.7,304.6 593.5,306.2 595.5,307.7 597.3,309.2 597.1,311.9 599.6,313.0 600.4,311.7 601.3,309.9 603.2,309.4 604.7,308.4 606.3,308.0 607.7,307.0 609.5,307.2 611.6,305.7 614.1,305.8 616.4,306.7 617.7,308.4 619.9,309.0 621.7,310.2 622.8,312.2 624.2,313.4 625.1,315.3 626.5,316.6 627.5,318.3 629.1,319.5 631.3,318.4 633.2,317.5 634.3,315.4 635.9,314.2 636.8,316.4 639.3,316.0 639.9,318.1 641.4,319.0 643.5,318.9 643.9,321.3 646.4,321.4 648.4,320.7 650.5,320.7 652.6,320.7 654.0,318.3 656.2,318.0 658.0,317.0 660.2,316.6 662.0,315.5 663.9,314.5 664.3,316.0 664.7,318.4 666.2,320.2 667.2,322.3 668.3,320.5 669.1,319.0 670.4,317.9 672.5,316.6 673.8,314.6 675.4,316.9 677.1,317.5 678.4,318.6 679.8,319.7 681.1,320.8 682.7,321.4 684.7,321.5 685.0,323.9 687.1,322.3 688.0,320.5 690.1,318.7 691.2,320.2 693.4,320.5 694.7,321.0 696.1,319.3 697.6,318.3 699.5,318.0 701.1,320.0 703.4,320.0 704.5,322.0 706.0,323.5 708.0,321.9 709.4,321.1 711.0,320.6 712.7,320.4 714.3,320.0 715.7,319.1 717.3,318.6 718.5,316.9 721.0,317.9 722.7,319.0 724.1,320.8 726.3,320.7 727.9,322.0 730.2,321.6 730.9,321.0 732.7,320.7 734.6,320.8 736.2,320.1 737.7,319.4 738.9,318.0 740.6,317.8 742.1,317.0 744.2,318.2 746.6,318.8 747.8,321.4 750.6,321.3 750.7,323.8 752.0,324.8 754.6,324.5 755.1,326.3 755.7,328.0 756.7,329.4 758.7,329.6 760.1,330.4 760.9,332.5 759.9,334.8 762.0,336.3 761.7,338.4 763.4,336.6 765.6,336.2 768.0,336.1 769.0,333.5 771.5,334.4 773.2,333.2 775.3,333.5 777.0,332.6 776.9,330.3 778.9,329.0 778.6,327.0 778.2,325.0 778.8,323.2 780.4,321.9 782.7,321.6 785.0,321.1 786.6,320.6 788.2,321.0 789.9,320.8 791.1,322.7 793.6,322.1 794.3,324.3 795.7,325.4 797.2,326.4 795.6,328.4 796.3,330.2 798.7,331.0 800.6,329.8 802.5,330.0 804.5,330.0 806.5,331.3 808.4,330.3 808.3,327.8 808.6,325.5 808.5,323.3 808.1,321.1 811.1,320.7 812.6,322.6 814.6,321.7 816.1,323.5 818.3,322.4 820.1,322.8 821.3,324.4 823.1,324.9 824.2,326.3 824.8,328.3 826.3,329.2 827.8,330.1 830.0,330.3 831.6,331.4 833.4,331.9 835.5,331.5 837.3,332.3 839.4,331.2 840.3,330.6 840.4,328.6 841.7,327.2 842.2,325.4 843.5,324.9 845.2,324.4 846.7,326.4 848.4,324.7 850.0,325.5 851.6,325.2 853.3,325.0 855.0,325.9 856.7,326.4 858.3,324.8 858.4,327.3 859.7,329.0 859.6,331.0 860.4,332.7 861.3,334.3 861.8,336.1 862.8,335.4 864.8,336.7 866.4,335.5 868.1,334.7 870.1,335.9 871.9,335.8 873.5,334.3 875.2,333.4 876.9,333.2 878.7,332.7 880.2,334.6 881.7,335.5 882.6,337.0 883.8,338.3 884.4,340.0 885.1,341.7 887.4,341.6 889.0,340.8 890.7,340.5 892.5,340.5 893.3,338.9 894.3,337.5 894.8,335.8 896.2,334.7 898.4,334.2 898.0,331.8 899.7,330.9 900.9,329.7 902.0,331.2 904.5,331.1 906.2,332.5 907.9,333.8 908.2,336.2 908.6,338.3 907.9,340.6 908.6,342.6 909.0,344.7 911.3,346.4 910.0,344.2 912.0,342.5 913.1,340.6 912.9,338.3 914.7,339.1 916.9,338.6 918.1,340.1 919.1,341.9 919.6,343.3 920.3,345.3 920.4,347.0 922.3,348.3 923.0,350.0 925.1,350.0 928.0,350.7 929.5,349.2 931.2,347.7 932.0,345.8 933.1,344.0 935.0,343.9 936.9,342.7 939.0,342.4 940.8,340.9 943.2,342.1 945.0,340.5 946.3,342.7 948.2,343.0 950.2,343.1 951.9,343.6 953.4,344.6 954.6,346.2 956.8,345.6 958.2,343.6 960.0,342.9 962.2,343.2 963.5,344.3 965.1,345.0 966.7,345.7 967.6,347.4 967.2,345.1 968.4,343.6 969.3,342.0 970.9,340.7 970.8,338.8 971.9,337.3 972.4,335.8 973.5,334.2 974.9,333.0 977.3,333.0 978.3,331.3 979.1,329.5 980.0,327.8 982.1,327.4 984.2,327.5 986.1,326.7 988.1,326.1 990.3,326.8 992.4,327.1 994.3,325.4 997.0,326.3 998.7,328.1 1000.6,329.4 1002.4,331.1 1004.2,329.7 1006.2,330.5 1007.9,330.0 1009.5,329.0 1011.1,328.0 1013.1,329.2 1014.5,327.4 1016.5,328.1 1017.6,326.1 1019.1,325.3 1021.2,325.6 1022.3,323.9 1024.5,324.4 1025.5,322.7 1026.8,321.4 1028.3,320.7 1030.7,322.2 1032.5,323.9 1034.3,325.7 1037.2,325.3 1037.8,327.6 1039.0,329.2 1038.3,331.6 1040.7,332.6 1041.7,334.2 1042.5,335.9 1043.9,335.5 1046.7,335.7 1049.1,333.1 1050.9,330.4 1051.8,331.8 1053.6,332.4 1055.8,331.9 1057.6,332.3 1058.4,335.0 1060.4,336.0 1063.0,336.1 1063.9,338.6 1066.2,337.9 1068.2,337.8 1070.3,337.6 1072.3,337.2 1074.3,336.7 1076.4,337.2 1076.8,336.1 1078.7,335.1 1077.7,332.8 1080.1,332.2 1079.2,330.0 1080.2,328.7 1082.3,329.5 1084.2,329.5 1086.0,328.7 1087.8,327.8 1089.7,328.7 1091.5,328.5 1093.7,329.0 1094.9,326.8 1096.9,326.4 1099.1,326.9 1100.2,324.4 1102.3,324.5 1104.5,324.6 1106.2,323.7 1107.3,321.6 1108.9,320.9 1111.7,323.4 1112.0,326.6 1114.7,323.8 1117.8,323.1 1118.2,324.7 1120.6,325.5 1122.0,326.9 1122.2,329.5 1123.5,331.0 1124.9,332.8 1124.6,335.1 1126.1,336.9 1127.5,337.1 1129.3,337.2 1130.3,339.3 1131.8,340.2 1133.6,340.1 1135.0,341.3 1137.2,341.4 1137.9,343.2 1138.4,345.0 1138.6,347.1 1140.9,348.0 1142.9,347.2 1145.1,348.0 1146.9,349.4"/>
<polyline stroke-opacity="0.95" stroke-width="6.0" stroke-dasharray="4.1 1.8 5.1 1.7 5.4 2.8 2.9 2.2 5.9 1.7 4.4 2.9 2.2 2.0 2.8 2.5 6.7 1.9 2.5 2.1 4.7 2.4 4.6 2.2 6.1 1.9 4.1 2.9 3.1 2.3 4.0 2.5 2.6 3.0 3.8 0.9 3.4 1.7 2.1 1.7 4.1 2.3 3.8 1.4 3.1 2.4 6.7 2.0 3.1 2.6 4.0 1.3 2.6 2.5 6.0 2.2 4.3 2.0 3.1 2.9 3.8 2.2 6.1 2.6 4.3 1.4 4.7 1.1 6.2 1.6 6.3 1.4 3.9 1.4 4.1 1.2 2.0 2.4 3.4 1.3 3.5 1.9 4.1 2.2 5.3 1.6 6.6 2.7 2.3 2.6 6.5 2.5 2.7 2.6 5.2 0.8 2.1 2.9 5.3 1.4 2.5 1.1 3.2 2.5 3.7 1.1 6.5 2.5 2.8 2.8 5.0 2.5 5.3 2.8 5.9 2.6 3.0 2.3 4.7 2.4 4.2 2.7 4.8 1.4 3.2 1.1 4.5 0.9 4.3 1.1 4.5 1.9 4.7 2.7 2.0 2.6 4.3 2.0 5.3 2.6 3.9 1.7 6.8 1.0 5.2 2.2 2.1 2.1 5.4 2.8 3.7 3.0 4.6 1.9 6.5 0.9 5.6 2.2 3.7 2.7 3.8 1.8 4.6 2.5 3.1 1.8 4.1 2.0 6.1 1.4 6.1 1.7 4.5 1.4 4.5 2.9 5.3 2.5 3.7 1.5 3.5 2.1 5.2 2.5 2.2 2.4 6.4 2.0 2.2 1.5 2.0 1.2 6.6 2.1 5.3 2.5 6.5 2.1 5.1 2.2 5.5 2.1 5.4 1.3 5.3 1.8 5.8 1.0 2.9 0.9 5.9 2.8 5.3 1.6 6.1 2.5 4.8 1.4 3.5 1.7 3.6 1.7 5.2 2.9 2.3 2.0 2.2 1.1 6.1 2.1 6.6 1.8 2.1 1.7 5.0 2.9 6.9 1.8 4.1 1.0" points="1146.8,349.5 1148.5,348.7 1150.5,348.4 1151.9,347.1 1153.8,347.0 1155.9,346.6 1158.1,346.3 1160.3,345.9 1162.6,345.4 1164.4,346.5 1166.1,347.9 1167.8,349.3 1169.2,351.0 1171.6,350.0 1173.9,349.8 1176.1,350.1 1178.3,349.2 1180.7,349.4 1183.1,349.7 1185.4,350.6 1187.9,350.6 1190.1,352.2 1192.4,353.2 1194.8,354.3 1197.5,354.7 1200.0,355.6 1202.4,356.6 1204.6,358.0 1206.9,359.2 1208.8,359.1 1210.7,359.0 1212.5,359.3 1214.3,359.6 1216.2,359.8 1218.0,359.9 1219.8,360.4 1221.8,360.6 1223.7,360.4 1225.4,361.4 1228.1,363.4 1230.3,365.9 1232.4,366.7 1234.3,367.9 1236.6,368.2 1238.6,369.1 1240.8,369.3 1243.1,369.4 1245.3,370.4 1247.6,370.3 1249.9,370.3 1252.2,370.6 1254.1,371.0 1255.8,370.2 1257.6,369.7 1259.5,370.1 1261.3,369.7 1263.2,369.8 1265.0,368.4 1267.2,368.2 1269.3,368.0 1271.4,367.5 1273.5,367.6 1275.8,366.7 1278.0,367.0 1280.3,366.8 1282.7,366.9 1285.0,367.7 1286.7,366.6 1288.6,366.2 1290.1,365.0 1291.9,364.8 1293.9,365.5 1296.0,366.3 1297.3,368.1 1298.7,369.6 1300.8,370.4 1302.0,372.1 1305.3,370.3 1308.1,368.4 1310.6,368.1 1312.9,367.5 1315.4,367.3 1317.8,367.0 1319.8,367.5 1321.9,367.7 1324.0,367.4 1326.0,367.4 1328.1,367.9 1330.1,368.4 1332.2,368.1 1334.2,368.4 1335.9,367.6 1338.0,367.5 1339.7,366.5 1341.4,365.4 1343.2,364.8 1345.2,364.4 1347.2,364.7 1349.3,364.9 1351.4,364.6 1353.4,364.9 1355.4,366.0 1357.5,366.3 1359.6,366.8 1361.6,367.3 1363.5,368.5 1365.7,368.4 1367.4,367.9 1368.9,366.9 1370.7,366.0 1372.7,365.5 1373.8,367.6 1376.0,369.2 1378.4,368.5 1381.0,368.4 1383.5,367.4 1386.1,366.7 1388.3,366.4 1390.0,364.9 1392.0,364.1 1393.7,362.6 1395.6,362.5 1397.3,361.6 1399.1,360.7 1400.9,360.0 1402.9,360.1 1404.9,359.7 1406.9,359.5 1408.6,358.2 1410.5,359.3 1412.4,359.6 1414.2,360.3 1416.1,360.5 1417.9,361.2 1419.7,362.0 1421.8,361.8 1423.7,360.5 1425.8,360.3 1427.9,360.0 1430.1,359.6 1431.9,358.3 1433.7,357.3 1436.0,357.1 1437.9,356.1 1439.6,354.7 1441.3,353.4 1443.6,353.2 1445.3,351.8 1447.4,351.3 1449.2,350.1 1451.2,349.3 1452.9,348.7 1454.8,349.3 1456.6,348.7 1458.4,348.9 1460.3,349.3 1462.1,349.3 1464.0,347.6 1466.0,346.5 1468.2,345.5 1470.3,344.5 1472.3,343.2 1474.2,341.9 1476.7,342.1 1479.0,342.7 1481.5,343.1 1484.0,342.4 1485.7,342.3 1487.5,341.7 1488.9,340.4 1490.9,340.4 1492.4,339.1 1494.2,338.8 1495.9,338.1 1497.6,337.5 1499.7,337.9 1501.7,338.6 1503.7,339.5 1505.8,340.0 1506.5,342.2 1507.5,344.2 1508.5,346.2 1509.7,348.1 1511.4,348.4 1513.6,348.2 1515.7,347.9 1517.9,348.3 1520.0,348.3 1522.1,347.9 1524.2,347.6 1526.3,347.8 1528.4,347.4 1530.5,347.3 1532.5,347.4 1534.5,346.7 1536.6,346.8 1538.7,346.6 1540.6,345.8 1542.8,346.2 1544.8,345.3 1546.9,345.7 1549.0,345.5 1551.0,344.9 1553.0,344.0 1555.1,344.1 1557.1,343.5 1559.3,343.7 1561.1,342.4 1563.3,342.8 1565.4,342.5 1567.4,341.8 1569.5,341.5 1571.4,340.5 1573.7,340.9 1575.7,340.0 1577.9,340.0 1580.0,339.5 1581.9,338.4 1583.8,338.7 1585.6,338.5 1587.3,337.3 1589.1,337.2 1591.0,337.3 1592.6,336.4"/>
</g>
<g fill="none" stroke="#1187c3" stroke-linecap="round" stroke-linejoin="round">
<polyline stroke-width="5.8" points="236.2,164.9 236.3,174.0 238.1,174.7 240.4,174.4 242.0,175.5 243.3,177.0 245.5,178.0 245.6,180.5 247.0,181.9 247.9,183.5 249.0,183.2 250.2,185.3 252.2,184.1 253.7,184.6 255.2,185.2 256.7,186.6 258.9,186.7 259.4,188.9 260.4,190.8 260.9,192.9 262.3,194.6 263.5,196.5 265.8,197.6 266.8,199.6 268.1,201.4 268.2,203.9 269.3,205.8 272.1,206.5 273.3,208.4 274.4,210.3 275.6,212.1 276.3,214.3 277.8,215.8 279.9,216.6 281.7,217.2 282.5,219.0 284.7,220.8 285.0,222.8 284.8,224.8 286.0,226.3 287.1,227.8 288.2,226.5 289.2,225.2 288.8,222.9 291.8,223.9 293.5,223.0 295.6,222.6 297.6,221.7 299.0,221.3 300.5,221.8 302.3,221.6 303.5,223.4 305.6,222.8 307.3,223.4 308.0,225.9 308.6,227.6 308.7,229.4 309.8,231.0 310.4,232.7 310.5,234.5 311.1,236.0 310.9,237.8 312.1,239.2 310.6,241.3 311.7,242.7 313.2,244.0 313.3,242.4 314.7,241.2 316.2,239.9 317.3,238.1 318.9,236.9 319.3,235.0 318.2,233.0 318.4,231.3 317.5,229.5 317.6,227.7 318.4,226.0 318.4,224.2 320.0,222.6 318.6,220.8 318.5,219.1 321.0,217.8 321.6,218.5 323.8,218.9 323.9,221.6 325.7,223.2 325.2,225.5 324.7,227.5 325.5,229.0 326.4,230.4 327.9,231.7 328.4,230.2 329.2,228.5 331.5,228.2 332.3,226.6 332.7,228.5 334.6,229.5 335.9,230.9 335.7,233.3 336.4,235.1 337.7,236.5 340.4,235.9 342.1,235.2 343.7,234.4 345.0,232.7 346.9,234.7 348.8,235.7 351.1,236.5 352.8,237.9 353.4,240.7 354.3,242.8 354.2,245.2 354.5,247.4 357.3,245.4 359.9,244.8 361.7,243.7 363.6,242.4 364.9,241.4 366.8,241.3 368.6,241.5 369.7,243.9 370.2,245.8 369.7,247.9 369.6,250.0 372.2,248.3 372.5,246.0 373.9,244.4 375.3,242.8 374.8,240.1 377.0,239.0 377.9,237.0 377.8,235.0 378.0,233.1 377.5,231.3 377.0,229.4 378.7,227.9 380.1,227.8 381.9,229.3 384.0,230.0 386.3,229.0 388.9,227.8 392.0,228.1 393.2,228.4 395.5,228.1 397.3,228.9 399.0,229.9 398.9,232.7 400.3,234.2 402.7,234.8 402.5,237.4 403.3,239.2 405.1,240.3 406.4,241.8 406.7,243.7 408.3,245.2 409.3,246.9 407.8,249.6 409.2,251.1 409.8,249.3 410.9,247.6 409.9,245.7 411.2,244.1 411.2,242.4 409.9,240.6 410.2,239.0 410.4,237.4 411.4,235.4 413.2,234.1 413.5,232.3 414.8,231.1 417.0,232.2 417.0,234.9 419.4,235.6 420.6,237.3 421.8,238.4 422.7,239.9 424.7,239.7 426.2,241.9 428.7,242.2 430.7,242.8 432.8,243.4 435.1,242.6 436.9,244.1 438.6,245.3 440.0,246.5 439.4,249.2 441.7,250.0 441.6,252.7 441.5,255.1 442.4,257.2 443.4,259.2 443.8,261.1 444.6,262.9 444.9,264.8 447.2,265.7 447.6,267.3 449.4,267.8 450.7,268.8 451.5,270.7 454.0,270.0 456.0,269.8 457.9,270.2 459.8,270.4 460.4,270.9 460.6,272.6 461.5,274.0 462.2,275.9 462.6,278.0 463.9,279.7 464.9,278.1 465.8,276.5 468.7,274.9 468.7,275.9 469.5,277.5 470.5,279.0 472.9,279.3 473.5,281.1 473.9,283.1 476.5,282.8 477.8,280.8 479.7,280.4 481.6,280.9 483.5,280.6 484.8,281.6 486.4,281.7 487.6,283.5 488.9,281.8 489.7,280.4 488.6,278.2 490.7,276.5 491.5,274.3 493.0,274.5 493.3,276.9 494.5,278.1 497.0,277.8 497.1,280.7 499.5,281.5 500.7,283.4 501.2,285.8 503.6,286.8 506.2,286.3 507.8,287.6 509.6,288.6 510.5,290.7 511.3,292.8 511.5,295.1 511.1,297.5 512.5,295.6 514.6,295.9 515.9,294.9 517.1,293.4 518.9,293.5 520.6,293.6" stroke-dasharray="1.7 18.2 0.6 14.3 0.3 27.7 0.6 33.3 0.5 31.4 0.6 14.4 1.9 18.8 1.9 17.7 0.4 29.5 1.9 31.1 1.9 15.7 1.7 28.2 1.3 32.6 0.9 33.3 1.9 14.2 0.3 27.0 2.1 15.6 1.0 28.6 0.7 31.2 1.4 15.2 1.1 25.5 1.3 27.5 0.6 29.9 1.1 26.9 1.7 22.4 1.1 29.7 2.4 29.7 1.5 19.8 0.4 33.5 1.8 30.5 1.0 26.1 2.5 30.6 1.6 20.2 1.2 31.8 1.1 27.7 1.6 31.9 2.1 19.7 0.3 19.3 1.2 25.7 2.1 31.7"/>
<polyline stroke-width="5.8" points="521.9,308.4 522.2,310.2 523.4,311.8 524.1,310.9 524.4,309.3 525.4,307.9 525.5,309.3 525.3,311.2 525.9,313.1 524.4,315.0 525.0,313.2 525.2,311.6 526.3,310.1 527.9,308.9 528.2,307.2 528.0,308.8 528.3,310.7 526.6,312.5 527.3,314.3 527.1,316.2 528.4,318.0 526.9,316.1 528.6,314.7 528.3,313.0 527.9,311.1 530.1,309.9 529.8,308.1 529.0,309.7 530.7,311.3 529.2,313.1 531.1,314.6 529.5,316.5 530.6,318.0 531.0,319.7 530.7,321.4 532.0,319.5 530.8,317.4 530.7,315.4 531.9,313.5 531.5,311.5 531.4,309.5 531.8,307.6 531.8,305.6 532.5,303.7 533.1,301.8 533.4,299.9 534.7,298.3 534.1,296.4 534.9,294.7 535.8,293.1 537.4,292.4 539.5,294.0 540.1,296.1 541.6,297.8 541.3,300.4 542.3,302.3 543.7,304.1 543.9,306.3 543.6,308.7 546.6,309.3 547.0,312.0 549.2,312.9 550.6,314.5 552.2,313.7 552.5,311.8 553.7,310.7 555.0,309.7 556.6,308.9 556.5,306.8 559.0,306.2 560.5,304.6 562.1,303.1 563.5,301.4 565.8,302.2 568.1,302.5 570.0,303.4 572.1,304.1 573.5,304.1 574.1,302.1 575.4,300.8 576.7,299.5 579.2,300.5 580.9,300.2 582.5,299.5 584.0,298.3 585.9,298.4 587.6,298.7 589.3,299.3 591.1,298.7 592.0,300.9 593.2,302.2 592.7,304.6 593.5,306.2 595.5,307.7 597.3,309.2 597.1,311.9 599.6,313.0 600.4,311.7 601.3,309.9 603.2,309.4 604.7,308.4 606.3,308.0 607.7,307.0 609.5,307.2 611.6,305.7 614.1,305.8 616.4,306.7 617.7,308.4 619.9,309.0 621.7,310.2 622.8,312.2 624.2,313.4 625.1,315.3 626.5,316.6 627.5,318.3 629.1,319.5 631.3,318.4 633.2,317.5 634.3,315.4 635.9,314.2 636.8,316.4 639.3,316.0 639.9,318.1 641.4,319.0 643.5,318.9 643.9,321.3 646.4,321.4 648.4,320.7 650.5,320.7 652.6,320.7 654.0,318.3 656.2,318.0 658.0,317.0 660.2,316.6 662.0,315.5 663.9,314.5 664.3,316.0 664.7,318.4 666.2,320.2 667.2,322.3 668.3,320.5 669.1,319.0 670.4,317.9 672.5,316.6 673.8,314.6 675.4,316.9 677.1,317.5 678.4,318.6 679.8,319.7 681.1,320.8 682.7,321.4 684.7,321.5 685.0,323.9 687.1,322.3 688.0,320.5 690.1,318.7 691.2,320.2 693.4,320.5 694.7,321.0 696.1,319.3 697.6,318.3 699.5,318.0 701.1,320.0 703.4,320.0 704.5,322.0 706.0,323.5 708.0,321.9 709.4,321.1 711.0,320.6 712.7,320.4 714.3,320.0 715.7,319.1 717.3,318.6 718.5,316.9 721.0,317.9 722.7,319.0 724.1,320.8 726.3,320.7 727.9,322.0 730.2,321.6 730.9,321.0 732.7,320.7 734.6,320.8 736.2,320.1 737.7,319.4 738.9,318.0 740.6,317.8 742.1,317.0 744.2,318.2 746.6,318.8 747.8,321.4 750.6,321.3 750.7,323.8 752.0,324.8 754.6,324.5 755.1,326.3 755.7,328.0 756.7,329.4 758.7,329.6 760.1,330.4 760.9,332.5 759.9,334.8 762.0,336.3 761.7,338.4 763.4,336.6 765.6,336.2 768.0,336.1 769.0,333.5 771.5,334.4 773.2,333.2 775.3,333.5 777.0,332.6 776.9,330.3 778.9,329.0 778.6,327.0 778.2,325.0 778.8,323.2 780.4,321.9 782.7,321.6 785.0,321.1 786.6,320.6 788.2,321.0 789.9,320.8 791.1,322.7 793.6,322.1 794.3,324.3 795.7,325.4 797.2,326.4 795.6,328.4 796.3,330.2 798.7,331.0 800.6,329.8 802.5,330.0 804.5,330.0 806.5,331.3 808.4,330.3 808.3,327.8 808.6,325.5 808.5,323.3 808.1,321.1 811.1,320.7 812.6,322.6 814.6,321.7 816.1,323.5 818.3,322.4 820.1,322.8 821.3,324.4 823.1,324.9 824.2,326.3 824.8,328.3 826.3,329.2 827.8,330.1 830.0,330.3 831.6,331.4 833.4,331.9 835.5,331.5 837.3,332.3 839.4,331.2 840.3,330.6 840.4,328.6 841.7,327.2 842.2,325.4 843.5,324.9 845.2,324.4 846.7,326.4 848.4,324.7 850.0,325.5 851.6,325.2 853.3,325.0 855.0,325.9 856.7,326.4 858.3,324.8 858.4,327.3 859.7,329.0 859.6,331.0 860.4,332.7 861.3,334.3 861.8,336.1 862.8,335.4 864.8,336.7 866.4,335.5 868.1,334.7 870.1,335.9 871.9,335.8 873.5,334.3 875.2,333.4 876.9,333.2 878.7,332.7 880.2,334.6 881.7,335.5 882.6,337.0 883.8,338.3 884.4,340.0 885.1,341.7 887.4,341.6 889.0,340.8 890.7,340.5 892.5,340.5 893.3,338.9 894.3,337.5 894.8,335.8 896.2,334.7 898.4,334.2 898.0,331.8 899.7,330.9 900.9,329.7 902.0,331.2 904.5,331.1 906.2,332.5 907.9,333.8 908.2,336.2 908.6,338.3 907.9,340.6 908.6,342.6 909.0,344.7 911.3,346.4 910.0,344.2 912.0,342.5 913.1,340.6 912.9,338.3 914.7,339.1 916.9,338.6 918.1,340.1 919.1,341.9 919.6,343.3 920.3,345.3 920.4,347.0 922.3,348.3 923.0,350.0 925.1,350.0 928.0,350.7 929.5,349.2 931.2,347.7 932.0,345.8 933.1,344.0 935.0,343.9 936.9,342.7 939.0,342.4 940.8,340.9 943.2,342.1 945.0,340.5 946.3,342.7 948.2,343.0 950.2,343.1 951.9,343.6 953.4,344.6 954.6,346.2 956.8,345.6 958.2,343.6 960.0,342.9 962.2,343.2 963.5,344.3 965.1,345.0 966.7,345.7 967.6,347.4 967.2,345.1 968.4,343.6 969.3,342.0 970.9,340.7 970.8,338.8 971.9,337.3 972.4,335.8 973.5,334.2 974.9,333.0 977.3,333.0 978.3,331.3 979.1,329.5 980.0,327.8 982.1,327.4 984.2,327.5 986.1,326.7 988.1,326.1 990.3,326.8 992.4,327.1 994.3,325.4 997.0,326.3 998.7,328.1 1000.6,329.4 1002.4,331.1 1004.2,329.7 1006.2,330.5 1007.9,330.0 1009.5,329.0 1011.1,328.0 1013.1,329.2 1014.5,327.4 1016.5,328.1 1017.6,326.1 1019.1,325.3 1021.2,325.6 1022.3,323.9 1024.5,324.4 1025.5,322.7 1026.8,321.4 1028.3,320.7 1030.7,322.2 1032.5,323.9 1034.3,325.7 1037.2,325.3 1037.8,327.6 1039.0,329.2 1038.3,331.6 1040.7,332.6 1041.7,334.2 1042.5,335.9 1043.9,335.5 1046.7,335.7 1049.1,333.1 1050.9,330.4 1051.8,331.8 1053.6,332.4 1055.8,331.9 1057.6,332.3 1058.4,335.0 1060.4,336.0 1063.0,336.1 1063.9,338.6 1066.2,337.9 1068.2,337.8 1070.3,337.6 1072.3,337.2 1074.3,336.7 1076.4,337.2 1076.8,336.1 1078.7,335.1 1077.7,332.8 1080.1,332.2 1079.2,330.0 1080.2,328.7 1082.3,329.5 1084.2,329.5 1086.0,328.7 1087.8,327.8 1089.7,328.7 1091.5,328.5 1093.7,329.0 1094.9,326.8 1096.9,326.4 1099.1,326.9 1100.2,324.4 1102.3,324.5 1104.5,324.6 1106.2,323.7 1107.3,321.6 1108.9,320.9 1111.7,323.4 1112.0,326.6 1114.7,323.8 1117.8,323.1 1118.2,324.7 1120.6,325.5 1122.0,326.9 1122.2,329.5 1123.5,331.0 1124.9,332.8 1124.6,335.1 1126.1,336.9 1127.5,337.1 1129.3,337.2 1130.3,339.3 1131.8,340.2 1133.6,340.1 1135.0,341.3 1137.2,341.4 1137.9,343.2 1138.4,345.0 1138.6,347.1 1140.9,348.0 1142.9,347.2 1145.1,348.0 1146.9,349.4" stroke-dasharray="0.4 25.3 2.5 25.9 1.8 16.4 2.6 24.9 2.1 26.6 1.2 13.4 1.8 24.8 0.8 24.0 2.8 15.7 1.9 22.8 1.6 15.3 1.0 24.0 2.4 19.4 0.5 24.9 2.4 15.7 1.9 26.4 2.7 20.3 1.6 21.4 0.8 15.1 0.8 23.2 1.3 21.0 1.4 20.3 0.7 12.7 3.0 18.0 0.6 22.1 2.4 14.5 1.9 17.5 1.7 12.3 0.4 27.8 2.6 19.8 1.8 16.2 2.4 18.8 2.9 24.3 2.5 27.4 1.0 12.6 0.8 14.9 0.5 12.8 1.8 25.9 1.5 27.2 2.8 13.0 1.9 18.4 0.6 27.3 1.0 21.0 2.0 27.3 2.1 18.3 1.5 14.6 2.9 27.9 0.9 12.6 1.0 17.6 2.7 26.5 2.6 12.8 2.4 23.4 2.0 27.8 0.5 14.3 2.3 27.0 2.1 16.8 1.9 24.1 0.6 17.2 1.0 14.0 1.6 14.7"/>
<polyline stroke-width="4.6" points="1146.8,349.5 1148.5,348.7 1150.5,348.4 1151.9,347.1 1153.8,347.0 1155.9,346.6 1158.1,346.3 1160.3,345.9 1162.6,345.4 1164.4,346.5 1166.1,347.9 1167.8,349.3 1169.2,351.0 1171.6,350.0 1173.9,349.8 1176.1,350.1 1178.3,349.2 1180.7,349.4 1183.1,349.7 1185.4,350.6 1187.9,350.6 1190.1,352.2 1192.4,353.2 1194.8,354.3 1197.5,354.7 1200.0,355.6 1202.4,356.6 1204.6,358.0 1206.9,359.2 1208.8,359.1 1210.7,359.0 1212.5,359.3 1214.3,359.6 1216.2,359.8 1218.0,359.9 1219.8,360.4 1221.8,360.6 1223.7,360.4 1225.4,361.4 1228.1,363.4 1230.3,365.9 1232.4,366.7 1234.3,367.9 1236.6,368.2 1238.6,369.1 1240.8,369.3 1243.1,369.4 1245.3,370.4 1247.6,370.3 1249.9,370.3 1252.2,370.6 1254.1,371.0 1255.8,370.2 1257.6,369.7 1259.5,370.1 1261.3,369.7 1263.2,369.8 1265.0,368.4 1267.2,368.2 1269.3,368.0 1271.4,367.5 1273.5,367.6 1275.8,366.7 1278.0,367.0 1280.3,366.8 1282.7,366.9 1285.0,367.7 1286.7,366.6 1288.6,366.2 1290.1,365.0 1291.9,364.8 1293.9,365.5 1296.0,366.3 1297.3,368.1 1298.7,369.6 1300.8,370.4 1302.0,372.1 1305.3,370.3 1308.1,368.4 1310.6,368.1 1312.9,367.5 1315.4,367.3 1317.8,367.0 1319.8,367.5 1321.9,367.7 1324.0,367.4 1326.0,367.4 1328.1,367.9 1330.1,368.4 1332.2,368.1 1334.2,368.4 1335.9,367.6 1338.0,367.5 1339.7,366.5 1341.4,365.4 1343.2,364.8 1345.2,364.4 1347.2,364.7 1349.3,364.9 1351.4,364.6 1353.4,364.9 1355.4,366.0 1357.5,366.3 1359.6,366.8 1361.6,367.3 1363.5,368.5 1365.7,368.4 1367.4,367.9 1368.9,366.9 1370.7,366.0 1372.7,365.5 1373.8,367.6 1376.0,369.2 1378.4,368.5 1381.0,368.4 1383.5,367.4 1386.1,366.7 1388.3,366.4 1390.0,364.9 1392.0,364.1 1393.7,362.6 1395.6,362.5 1397.3,361.6 1399.1,360.7 1400.9,360.0 1402.9,360.1 1404.9,359.7 1406.9,359.5 1408.6,358.2 1410.5,359.3 1412.4,359.6 1414.2,360.3 1416.1,360.5 1417.9,361.2 1419.7,362.0 1421.8,361.8 1423.7,360.5 1425.8,360.3 1427.9,360.0 1430.1,359.6 1431.9,358.3 1433.7,357.3 1436.0,357.1 1437.9,356.1 1439.6,354.7 1441.3,353.4 1443.6,353.2 1445.3,351.8 1447.4,351.3 1449.2,350.1 1451.2,349.3 1452.9,348.7 1454.8,349.3 1456.6,348.7 1458.4,348.9 1460.3,349.3 1462.1,349.3 1464.0,347.6 1466.0,346.5 1468.2,345.5 1470.3,344.5 1472.3,343.2 1474.2,341.9 1476.7,342.1 1479.0,342.7 1481.5,343.1 1484.0,342.4 1485.7,342.3 1487.5,341.7 1488.9,340.4 1490.9,340.4 1492.4,339.1 1494.2,338.8 1495.9,338.1 1497.6,337.5 1499.7,337.9 1501.7,338.6 1503.7,339.5 1505.8,340.0 1506.5,342.2 1507.5,344.2 1508.5,346.2 1509.7,348.1 1511.4,348.4 1513.6,348.2 1515.7,347.9 1517.9,348.3 1520.0,348.3 1522.1,347.9 1524.2,347.6 1526.3,347.8 1528.4,347.4 1530.5,347.3 1532.5,347.4 1534.5,346.7 1536.6,346.8 1538.7,346.6 1540.6,345.8 1542.8,346.2 1544.8,345.3 1546.9,345.7 1549.0,345.5 1551.0,344.9 1553.0,344.0 1555.1,344.1 1557.1,343.5 1559.3,343.7 1561.1,342.4 1563.3,342.8 1565.4,342.5 1567.4,341.8 1569.5,341.5 1571.4,340.5 1573.7,340.9 1575.7,340.0 1577.9,340.0 1580.0,339.5 1581.9,338.4 1583.8,338.7 1585.6,338.5 1587.3,337.3 1589.1,337.2 1591.0,337.3 1592.6,336.4" stroke-dasharray="0.5 10.9 1.1 9.2 1.2 11.5 0.3 21.1 0.5 21.1 1.4 20.6 0.4 14.8 0.3 21.1 1.4 17.2 0.8 13.4 1.4 15.2 1.1 10.9 0.5 9.7 1.2 16.2 0.4 20.3 0.6 14.4 0.4 12.5 1.4 13.3 0.4 15.4 0.6 20.7 0.4 21.7 0.3 20.6 1.1 11.7 0.9 12.7 0.6 11.6 0.7 21.9 1.6 21.0 0.3 12.8 1.5 9.7 1.2 12.8 1.6 9.2 1.3 13.4 0.4 9.0 1.4 15.8 0.5 14.7 1.5 11.8 1.0 10.8 0.5 19.0 1.2 11.6 0.3 10.1 1.1 15.4 0.6 11.7 1.1 18.2 1.3 16.6 0.5 9.9 1.2 14.3 1.2 9.7 1.3 13.4 1.4 20.2 0.9 9.2 1.5 15.2 1.4 12.5 0.5 19.8 0.7 11.1 0.7 16.7 0.2 15.8 0.8 15.7 0.4 18.3 1.3 20.3 0.6 18.2"/>
</g>
<g fill="#1187c3">
<circle cx="204.6" cy="163.2" r="2.8"/>
<circle cx="217.9" cy="166" r="2.8"/>
<circle cx="243.5" cy="175" r="2.8"/>
<circle cx="256.5" cy="185" r="2.8"/>
<circle cx="266.6" cy="199.5" r="2.8"/>
<circle cx="270" cy="205" r="2.8"/>
<circle cx="277" cy="213" r="2.8"/>
<circle cx="282.5" cy="218" r="2.8"/>
<circle cx="298" cy="220.8" r="2.8"/>
<circle cx="306.7" cy="222" r="2.8"/>
<circle cx="313" cy="242" r="2.8"/>
<circle cx="318" cy="241" r="2.8"/>
<circle cx="368.5" cy="242.5" r="2.8"/>
<circle cx="374.6" cy="249" r="2.8"/>
<circle cx="386.3" cy="248.3" r="2.8"/>
<circle cx="385.5" cy="231" r="2.8"/>
<circle cx="441" cy="250" r="2.8"/>
<circle cx="440.2" cy="252.5" r="2.8"/>
<circle cx="463.5" cy="270" r="2.8"/>
<circle cx="487.7" cy="284" r="2.8"/>
<circle cx="496" cy="277" r="2.8"/>
<circle cx="511.5" cy="296.5" r="2.8"/>
<circle cx="532.9" cy="303" r="2.8"/>
<circle cx="532.8" cy="306" r="2.8"/>
<circle cx="532.6" cy="309" r="2.8"/>
<circle cx="532.5" cy="312" r="2.8"/>
<circle cx="532.4" cy="315" r="2.8"/>
<circle cx="532.3" cy="318" r="2.8"/>
<circle cx="541.5" cy="299.5" r="2.8"/>
<circle cx="556" cy="309" r="2.8"/>
<circle cx="571.5" cy="306" r="2.8"/>
<circle cx="597" cy="310" r="2.8"/>
<circle cx="602" cy="312" r="2.8"/>
<circle cx="632" cy="317" r="2.8"/>
<circle cx="667" cy="320.5" r="2.8"/>
<circle cx="667.8" cy="324" r="2.8"/>
<circle cx="685.4" cy="324" r="2.8"/>
<circle cx="665.5" cy="318" r="2.8"/>
<circle cx="668" cy="323" r="2.8"/>
<circle cx="686" cy="325.5" r="2.8"/>
<circle cx="777" cy="333" r="2.8"/>
<circle cx="796" cy="324.5" r="2.8"/>
<circle cx="808.4" cy="330" r="2.8"/>
<circle cx="839.5" cy="332.5" r="2.8"/>
<circle cx="892" cy="341.2" r="2.8"/>
<circle cx="897" cy="335" r="2.8"/>
<circle cx="900.7" cy="329.8" r="2.8"/>
<circle cx="908.5" cy="337" r="2.8"/>
<circle cx="910" cy="345" r="2.8"/>
<circle cx="928" cy="351" r="2.8"/>
<circle cx="907.5" cy="337" r="2.8"/>
<circle cx="909.8" cy="343.5" r="2.8"/>
<circle cx="910.5" cy="345.5" r="2.8"/>
<circle cx="971" cy="340" r="2.8"/>
<circle cx="973.5" cy="337" r="2.8"/>
<circle cx="1022" cy="324" r="2.8"/>
<circle cx="1046.4" cy="335.5" r="2.8"/>
<circle cx="1049" cy="333" r="2.8"/>
<circle cx="1079" cy="336" r="2.8"/>
<circle cx="1081" cy="329" r="2.8"/>
<circle cx="1112.7" cy="326.5" r="2.8"/>
<circle cx="1104" cy="323.8" r="2.8"/>
<circle cx="1592.7" cy="336.7" r="2.8"/>
</g>
<circle cx="1592.7" cy="336.7" r="3.7" fill="#1187c3"/>
<line x1="1305.3" y1="154.8" x2="1305.3" y2="383.6" stroke="#414141" stroke-width="2"/>
<text class="u" y="336" font-size="22.5" fill="#0f83be" stroke="#0f83be" stroke-width="0.55"><tspan x="1602.44" textLength="87.98" lengthAdjust="spacingAndGlyphs">Illiquid</tspan> <tspan x="1696.78" textLength="83.07" lengthAdjust="spacingAndGlyphs">supply</tspan></text>
<text class="u" y="61.4" font-size="41" fill="#333" stroke="#333" stroke-width="1.1"><tspan x="26.1" textLength="139.1" lengthAdjust="spacingAndGlyphs">Illiquid</tspan> <tspan x="174.99" textLength="128.96" lengthAdjust="spacingAndGlyphs">supply</tspan> <tspan x="315.39" textLength="42.04" lengthAdjust="spacingAndGlyphs">as</tspan> <tspan x="369.21" textLength="225.18" lengthAdjust="spacingAndGlyphs">percentage</tspan> <tspan x="606.41" textLength="41.25" lengthAdjust="spacingAndGlyphs">of</tspan> <tspan x="659.24" textLength="210.02" lengthAdjust="spacingAndGlyphs">circulating</tspan> <tspan x="878.68" textLength="129.78" lengthAdjust="spacingAndGlyphs">supply</tspan></text>
<rect x="30" y="90" width="63" height="19.6" fill="#e8780a" stroke="#6b6b60" stroke-width="2" stroke-dasharray="2.2 1.7"/>
<rect x="308.8" y="89.8" width="63.8" height="20" fill="#1187c3" stroke="#1187c3" stroke-width="2.2" stroke-dasharray="2.2 1.7"/>
<text class="tk" x="102.2" y="105.2" textLength="191.5" lengthAdjust="spacingAndGlyphs">Illiquid &lt; supply growth</text>
<text class="tk" x="381" y="105.2" textLength="191.5" lengthAdjust="spacingAndGlyphs">Illiquid &gt; supply growth</text>
<text class="u" y="68.7" font-size="46.8" fill="#333" stroke="#333" stroke-width="0.9"><tspan x="1586.61" textLength="382.33" lengthAdjust="spacingAndGlyphs">@therationalroot</tspan></text>
<g id="carrot">
<path d="M1547.7,36.4 L1548.8,32.1 L1551.1,33.2 L1552.2,27.5 L1555.7,30.6 L1557.2,22.6 Q1558.8,21.4 1560.4,22.6 L1561.4,30.6 L1564.8,27.5 L1565.9,32.1 L1568.2,32 L1569.4,36.4 Z" fill="#1f9a33" stroke="#24502a" stroke-width="0.9" stroke-linejoin="round"/>
<path d="M1547.3,37 C1545.2,38.6 1544.4,40.5 1544.6,42.8 C1544.6,45 1545,46.8 1545.6,48.5 C1546.4,50.8 1547.2,52.8 1547.7,55 C1548.1,58 1548.1,61 1548.4,64 C1548.9,67.6 1549.6,71 1550.6,74.3 C1551.4,77 1552.4,79.2 1554,80.9 C1555.8,82.8 1557,84 1558.5,84.7 C1560.4,84.2 1561.9,82.8 1563.9,80.7 C1565.6,78.2 1567.1,75.4 1568.2,72 C1569.5,68.2 1570.3,64.4 1571.2,60.6 C1571.5,57 1572.6,53.8 1573.3,50.2 C1573.8,48 1574.3,45.8 1574.2,43.5 C1574.1,41.6 1573.6,40 1572.7,38.8 C1571.8,37.7 1570.6,37 1569.3,36.6 C1562,35.6 1554.6,35.8 1547.3,37 Z" fill="#f7931f" stroke="#3b3326" stroke-width="1.1" stroke-linejoin="round"/>
</g>
<text class="uc" y="519.2" font-size="31.5" font-weight="bold" fill="#333"><tspan x="30.09" textLength="176.82" lengthAdjust="spacingAndGlyphs">Supported</tspan> <tspan x="214.59" textLength="52.77" lengthAdjust="spacingAndGlyphs">by:</tspan></text>
<g fill="#ff9109">
<polygon points="32.3,556.1 72.3,574.9 72.3,585.9 32.3,566.7"/>
<polygon points="32.3,571.0 72.3,589.8 72.3,600.8 32.3,581.6"/>
<polygon points="32.3,585.9 72.3,604.7 72.3,615.7 32.3,596.5"/>
</g><g fill="#1a1a1a">
<polygon points="76.2,576.2 86.5,571 86.5,610.4 76.2,615.6"/>
<polygon points="91,569.1 101.4,563.9 101.4,602.9 91,608.1"/>
<polygon points="105.9,561.7 116.2,556.1 116.2,595.5 105.9,600.7"/>
</g>
<g id="bitcoin" font-weight="bold" fill="#ff9109" stroke="#ff9109" stroke-width="7.0" stroke-linejoin="miter" stroke-miterlimit="6">
<text x="140.62" y="601.5" font-size="78.84" textLength="56.38" lengthAdjust="spacingAndGlyphs">B</text>
<text x="205.21" y="601.5" font-size="77.71" textLength="23.09" lengthAdjust="spacingAndGlyphs">I</text>
<text x="236.46" y="601.5" font-size="77.71" textLength="45.2" lengthAdjust="spacingAndGlyphs">T</text>
<text x="291.69" y="600.73" font-size="76.62" textLength="57.99" lengthAdjust="spacingAndGlyphs">C</text>
<text x="354.06" y="600.73" font-size="76.62" textLength="68.89" lengthAdjust="spacingAndGlyphs">O</text>
<text x="431.03" y="601.5" font-size="77.71" textLength="19.8" lengthAdjust="spacingAndGlyphs">I</text>
<text x="459.3" y="601.5" font-size="77.71" textLength="62.59" lengthAdjust="spacingAndGlyphs">N</text>
</g>
<text x="141.8" y="630.2" font-size="19" font-weight="bold" fill="#111" stroke="#111" stroke-width="0.8" textLength="128.5" lengthAdjust="spacingAndGlyphs">MAGAZINE</text>
<text class="u" y="621.5" font-size="19" fill="#3a3a3a" stroke="#3a3a3a" stroke-width="0.25"><tspan x="1635.89" textLength="52.33" lengthAdjust="spacingAndGlyphs">Data:</tspan> <tspan x="1691.77" textLength="147.83" lengthAdjust="spacingAndGlyphs">cryptocompare</tspan> <tspan x="1845.0" textLength="13.33" lengthAdjust="spacingAndGlyphs">&amp;</tspan> <tspan x="1864.08" textLength="98.33" lengthAdjust="spacingAndGlyphs">glassnode</tspan></text>
</svg></body></html>
